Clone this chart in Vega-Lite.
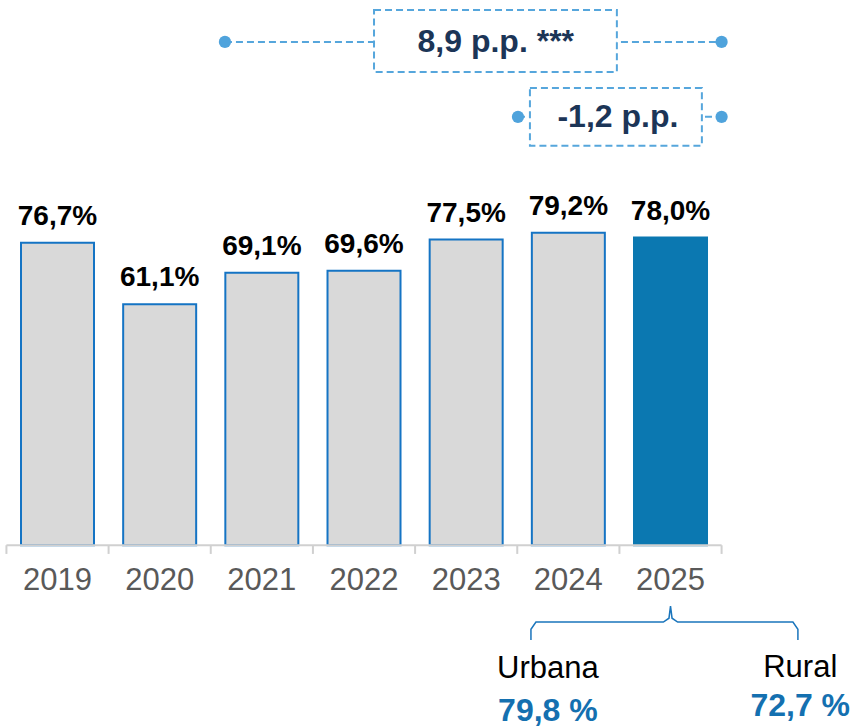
{
  "$schema": "https://vega.github.io/schema/vega-lite/v6.json",
  "width": 851,
  "height": 728,
  "autosize": {"type": "fit", "contains": "padding"},
  "padding": 0,
  "background": "white",
  "config": {"view": {"stroke": null}, "scale": {"continuousPadding": 0}},
  "datasets": {
    "bars": [
      {"year": 2019, "value": 76.7, "label": "76,7%"},
      {"year": 2020, "value": 61.1, "label": "61,1%"},
      {"year": 2021, "value": 69.1, "label": "69,1%"},
      {"year": 2022, "value": 69.6, "label": "69,6%"},
      {"year": 2023, "value": 77.5, "label": "77,5%"},
      {"year": 2024, "value": 79.2, "label": "79,2%"},
      {"year": 2025, "value": 78.0, "label": "78,0%"}
    ],
    "ticks": [
      {"pos": 2018.5}, {"pos": 2019.5}, {"pos": 2020.5}, {"pos": 2021.5},
      {"pos": 2022.5}, {"pos": 2023.5}, {"pos": 2024.5}, {"pos": 2025.5}
    ],
    "notes": [
      {"from": 2020.639, "to": 2025.5, "y": 127.6, "bx1": 2022.098, "bx2": 2024.475, "by1": 135.7, "by2": 120.0, "tx": 2023.29, "text": "8,9 p.p. ***"},
      {"from": 2023.507, "to": 2025.5, "y": 108.6, "bx1": 2023.624, "bx2": 2025.307, "by1": 115.9, "by2": 101.3, "tx": 2024.485, "text": "-1,2 p.p."}
    ],
    "dots": [
      {"x": 2020.639, "y": 127.6}, {"x": 2025.5, "y": 127.6},
      {"x": 2023.507, "y": 108.6}, {"x": 2025.5, "y": 108.6}
    ],
    "brace": [
      {"i": 0, "x": 2023.634, "y": -24.05},
      {"i": 1, "x": 2023.634, "y": -21.3},
      {"i": 2, "x": 2023.683, "y": -19.49},
      {"i": 3, "x": 2024.93, "y": -19.49},
      {"i": 4, "x": 2024.985, "y": -18.5},
      {"i": 5, "x": 2025.0, "y": -15.44},
      {"i": 6, "x": 2025.015, "y": -18.5},
      {"i": 7, "x": 2025.07, "y": -19.49},
      {"i": 8, "x": 2026.198, "y": -19.49},
      {"i": 9, "x": 2026.247, "y": -21.3},
      {"i": 10, "x": 2026.247, "y": -24.05}
    ],
    "groups": [
      {"name": "Urbana", "pct": "79,8 %", "x": 2023.80, "yn": -31.39, "yv": -42.03},
      {"name": "Rural", "pct": "72,7 %", "x": 2026.27, "yn": -31.1, "yv": -40.76}
    ]
  },
  "layer": [
    {
      "data": {"name": "bars"},
      "mark": {"type": "bar", "width": 73, "strokeWidth": 2},
      "encoding": {
        "x": {"field": "year", "type": "quantitative", "axis": null, "scale": {"domain": [2018.4372, 2026.7666], "nice": false, "zero": false, "padding": 0}},
        "y": {"field": "value", "type": "quantitative", "axis": null, "scale": {"domain": [-46.08, 138.23], "nice": false, "zero": false}},
        "fill": {"condition": {"test": "datum.year == 2025", "value": "#0b78b1"}, "value": "#d9d9d9"},
        "stroke": {"condition": {"test": "datum.year == 2025", "value": "#0b78b1"}, "value": "#1574c4"}
      }
    },
    {
      "data": {"name": "bars"},
      "mark": {"type": "text", "dy": -18, "baseline": "alphabetic", "align": "center", "font": "Liberation Sans Narrow, Arial Narrow, Liberation Sans, sans-serif", "fontWeight": "bold", "fontSize": 28, "color": "#000000"},
      "encoding": {
        "x": {"field": "year", "type": "quantitative", "axis": null},
        "y": {"field": "value", "type": "quantitative", "axis": null},
        "text": {"field": "label"}
      }
    },
    {
      "data": {"name": "bars"},
      "mark": {"type": "text", "baseline": "middle", "align": "center", "font": "Liberation Sans, Arial, sans-serif", "fontSize": 31, "color": "#595959"},
      "encoding": {
        "x": {"field": "year", "type": "quantitative", "axis": null},
        "y": {"datum": -9.11, "type": "quantitative", "axis": null},
        "text": {"field": "year", "type": "nominal"}
      }
    },
    {
      "data": {"values": [{}]},
      "mark": {"type": "rule", "color": "#d0d0d0", "strokeWidth": 2},
      "encoding": {
        "x": {"datum": 2018.5, "type": "quantitative", "axis": null},
        "x2": {"datum": 2025.5},
        "y": {"datum": 0, "type": "quantitative", "axis": null}
      }
    },
    {
      "data": {"name": "ticks"},
      "mark": {"type": "rule", "color": "#d0d0d0", "strokeWidth": 2},
      "encoding": {
        "x": {"field": "pos", "type": "quantitative", "axis": null},
        "y": {"datum": 0, "type": "quantitative", "axis": null},
        "y2": {"datum": -2.2}
      }
    },
    {
      "data": {"name": "notes"},
      "mark": {"type": "rule", "color": "#56a6dc", "strokeWidth": 2, "strokeDash": [7, 4]},
      "encoding": {
        "x": {"field": "from", "type": "quantitative", "axis": null},
        "x2": {"field": "to"},
        "y": {"field": "y", "type": "quantitative", "axis": null}
      }
    },
    {
      "data": {"name": "notes"},
      "mark": {"type": "rect", "fill": "white", "stroke": "#56a6dc", "strokeWidth": 2, "strokeDash": [7, 4]},
      "encoding": {
        "x": {"field": "bx1", "type": "quantitative", "axis": null},
        "x2": {"field": "bx2"},
        "y": {"field": "by1", "type": "quantitative", "axis": null},
        "y2": {"field": "by2"}
      }
    },
    {
      "data": {"name": "notes"},
      "mark": {"type": "text", "baseline": "middle", "align": "center", "font": "Liberation Sans, Arial, sans-serif", "fontWeight": "bold", "fontSize": 32, "color": "#1c3557"},
      "encoding": {
        "x": {"field": "tx", "type": "quantitative", "axis": null},
        "y": {"field": "y", "type": "quantitative", "axis": null},
        "text": {"field": "text"}
      }
    },
    {
      "data": {"name": "dots"},
      "mark": {"type": "point", "filled": true, "shape": "circle", "size": 150, "color": "#4fa3dc", "opacity": 1},
      "encoding": {
        "x": {"field": "x", "type": "quantitative", "axis": null},
        "y": {"field": "y", "type": "quantitative", "axis": null}
      }
    },
    {
      "data": {"name": "brace"},
      "mark": {"type": "line", "color": "#1a75bc", "strokeWidth": 1.5},
      "encoding": {
        "x": {"field": "x", "type": "quantitative", "axis": null},
        "y": {"field": "y", "type": "quantitative", "axis": null},
        "order": {"field": "i", "type": "quantitative"}
      }
    },
    {
      "data": {"name": "groups"},
      "mark": {"type": "text", "baseline": "middle", "align": "center", "font": "Liberation Sans, Arial, sans-serif", "fontSize": 31, "color": "#000000"},
      "encoding": {
        "x": {"field": "x", "type": "quantitative", "axis": null},
        "y": {"field": "yn", "type": "quantitative", "axis": null},
        "text": {"field": "name"}
      }
    },
    {
      "data": {"name": "groups"},
      "mark": {"type": "text", "baseline": "middle", "align": "center", "font": "Liberation Sans, Arial, sans-serif", "fontWeight": "bold", "fontSize": 32, "color": "#1470b0"},
      "encoding": {
        "x": {"field": "x", "type": "quantitative", "axis": null},
        "y": {"field": "yv", "type": "quantitative", "axis": null},
        "text": {"field": "pct"}
      }
    }
  ]
}
